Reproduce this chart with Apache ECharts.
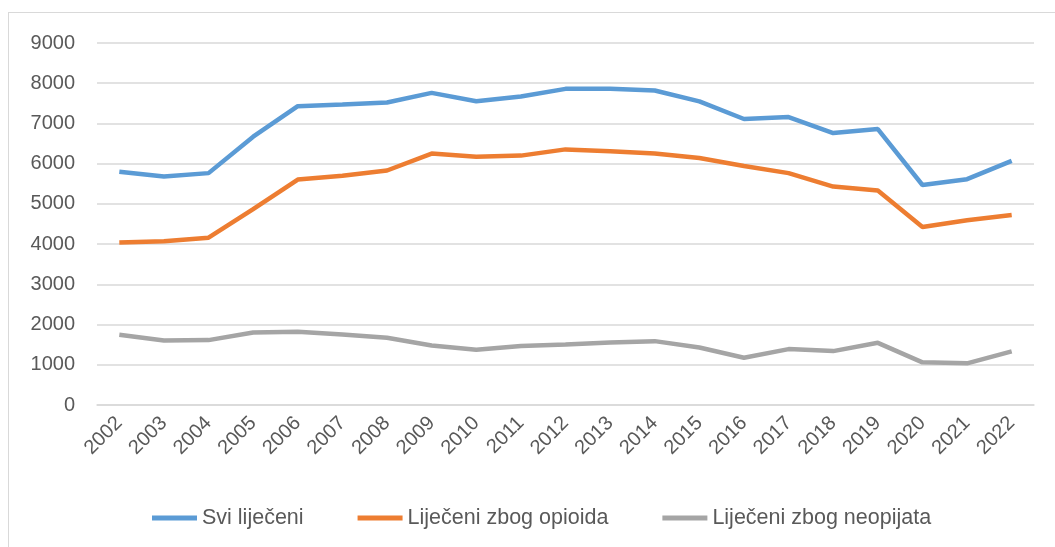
<!DOCTYPE html>
<html>
<head>
<meta charset="utf-8">
<script src="https://cdn.jsdelivr.net/npm/echarts@6/dist/echarts.min.js"></script>
<style>
  html, body { margin: 0; padding: 0; background: #fff; }
  #frame { position: absolute; left: 8px; top: 12px; width: 1100px; height: 600px; border: 1px solid #d9d9d9; }
  #main { position: absolute; left: 0; top: 0; width: 1055px; height: 547px; }
</style>
</head>
<body>
<div id="frame"></div>
<div id="main"></div>
<script>
const years = ['2002','2003','2004','2005','2006','2007','2008','2009','2010','2011','2012',
  '2013','2014','2015','2016','2017','2018','2019','2020','2021','2022'];
const sviLijeceni = [5800, 5680, 5765, 6670, 7430, 7470, 7520, 7760, 7550, 7670, 7860,
  7860, 7820, 7550, 7110, 7160, 6760, 6860, 5470, 5615, 6070];
const opioidi = [4040, 4070, 4160, 4870, 5605, 5700, 5830, 6250, 6170, 6200, 6355,
  6310, 6255, 6140, 5940, 5765, 5430, 5330, 4425, 4595, 4725];
const neopijati = [1745, 1605, 1613, 1804, 1820, 1754, 1670, 1480, 1373, 1464, 1505,
  1555, 1588, 1430, 1175, 1390, 1340, 1546, 1060, 1035, 1332];
const seriesNames = ['Svi liječeni', 'Liječeni zbog opioida', 'Liječeni zbog neopijata'];
const colors = ['#5B9BD5', '#ED7D31', '#A5A5A5'];

const chart = echarts.init(document.getElementById('main'));
const font = 'Liberation Sans';
const lineSeries = (name, data, color) => ({
  name: name,
  type: 'line',
  data: data,
  symbol: 'none',
  lineStyle: { width: 4.5, color: color },
  itemStyle: { color: color }
});

chart.setOption({
  animation: false,
  grid: { left: 97, right: 21, top: 43, bottom: 142 },
  legend: {
    bottom: 13,
    left: 147,
    itemWidth: 45,
    itemHeight: 5,
    itemGap: 54,
    icon: 'rect',
    textStyle: { fontFamily: font, fontSize: 21.5, color: '#595959' },
    data: seriesNames
  },
  xAxis: {
    type: 'category',
    data: years,
    boundaryGap: true,
    axisTick: { show: false },
    axisLine: { lineStyle: { color: '#d9d9d9', width: 1.5 } },
    axisLabel: { rotate: 45, fontFamily: font, fontSize: 20, color: '#595959', margin: 15, interval: 0 }
  },
  yAxis: {
    type: 'value',
    min: 0,
    max: 9000,
    interval: 1000,
    axisLine: { show: false },
    axisTick: { show: false },
    splitLine: { lineStyle: { color: '#d9d9d9', width: 1.5 } },
    axisLabel: { fontFamily: font, fontSize: 20, color: '#595959', margin: 22, formatter: (v) => String(v) }
  },
  series: [
    lineSeries(seriesNames[0], sviLijeceni, colors[0]),
    lineSeries(seriesNames[1], opioidi, colors[1]),
    lineSeries(seriesNames[2], neopijati, colors[2])
  ]
});
</script>
</body>
</html>
